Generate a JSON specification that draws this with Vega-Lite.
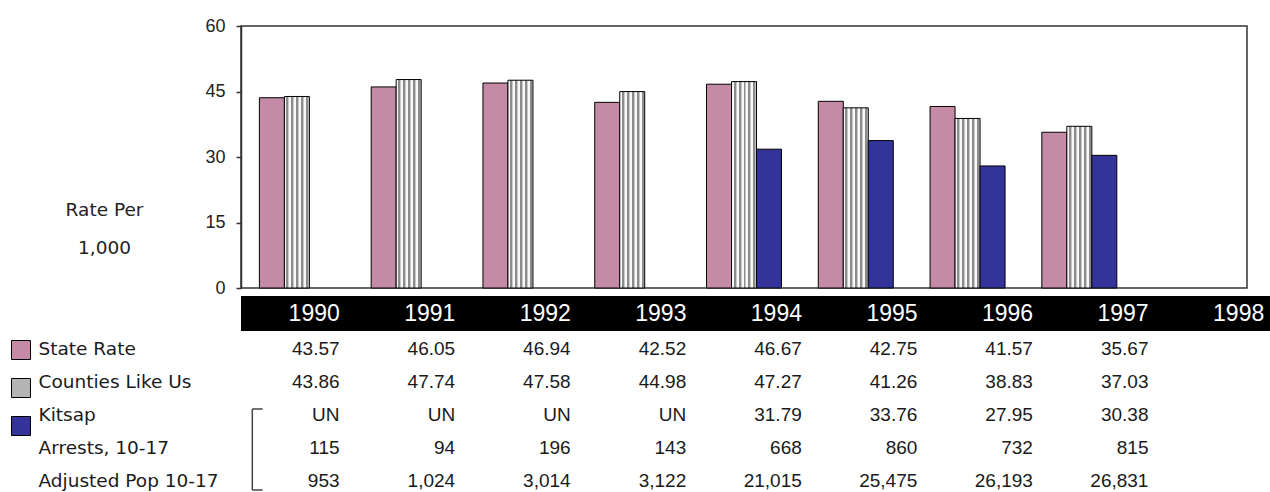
{
  "$schema": "https://vega.github.io/schema/vega-lite/v6.json",
  "padding": {"left": 11, "top": 16, "right": 0, "bottom": 0},
  "bounds": "flush",
  "spacing": 8,
  "config": {"font": "Liberation Sans", "view": {"stroke": null}},
  "vconcat": [
    {
      "width": 1006,
      "height": 262,
      "view": {"stroke": "#333333", "strokeWidth": 1.5},
      "data": {"values": [
        {"year": "1990", "series": "State Rate", "value": 43.57},
        {"year": "1991", "series": "State Rate", "value": 46.05},
        {"year": "1992", "series": "State Rate", "value": 46.94},
        {"year": "1993", "series": "State Rate", "value": 42.52},
        {"year": "1994", "series": "State Rate", "value": 46.67},
        {"year": "1995", "series": "State Rate", "value": 42.75},
        {"year": "1996", "series": "State Rate", "value": 41.57},
        {"year": "1997", "series": "State Rate", "value": 35.67},
        {"year": "1990", "series": "Counties Like Us", "value": 43.86},
        {"year": "1991", "series": "Counties Like Us", "value": 47.74},
        {"year": "1992", "series": "Counties Like Us", "value": 47.58},
        {"year": "1993", "series": "Counties Like Us", "value": 44.98},
        {"year": "1994", "series": "Counties Like Us", "value": 47.27},
        {"year": "1995", "series": "Counties Like Us", "value": 41.26},
        {"year": "1996", "series": "Counties Like Us", "value": 38.83},
        {"year": "1997", "series": "Counties Like Us", "value": 37.03},
        {"year": "1994", "series": "Kitsap", "value": 31.79},
        {"year": "1995", "series": "Kitsap", "value": 33.76},
        {"year": "1996", "series": "Kitsap", "value": 27.95},
        {"year": "1997", "series": "Kitsap", "value": 30.38}
      ]},
      "mark": {"type": "bar", "stroke": "#000000", "strokeWidth": 1},
      "encoding": {
        "x": {"field": "year", "type": "ordinal", "axis": null,
              "scale": {"domain": ["1990","1991","1992","1993","1994","1995","1996","1997","1998"], "paddingInner": 0, "paddingOuter": 0}},
        "xOffset": {"field": "series", "type": "nominal",
              "scale": {"domain": ["State Rate", "Counties Like Us", "Kitsap"], "paddingInner": 0, "paddingOuter": 0.736}},
        "y": {"field": "value", "type": "quantitative",
              "scale": {"domain": [0, 60], "nice": false},
              "axis": {"values": [0, 15, 30, 45, 60], "grid": false, "tickSize": 5, "tickColor": "#333333", "tickWidth": 1.5,
                       "domainColor": "#333333", "domainWidth": 1.5, "labelPadding": 11, "labelFontSize": 18, "labelColor": "#222222",
                       "title": ["Rate Per", "1,000"], "titleAngle": 0, "titleX": -137, "titleY": 189, "titleAlign": "center",
                       "titleBaseline": "alphabetic", "titleLineHeight": 38, "titleFont": "DejaVu Sans", "titleFontSize": 18.5, "titleFontWeight": "normal", "titleColor": "#222222"}},
        "fill": {
          "condition": {"test": "datum.series === 'Counties Like Us'",
            "value": {"gradient": "linear", "x1": 0, "y1": 0, "x2": 1, "y2": 0, "stops": [
              {"offset": 0, "color": "#f8f8f8"}, {"offset": 0.08, "color": "#f8f8f8"}, {"offset": 0.08, "color": "#8c8c8c"}, {"offset": 0.16, "color": "#8c8c8c"}, {"offset": 0.16, "color": "#c8c8c8"}, {"offset": 0.2, "color": "#c8c8c8"},
              {"offset": 0.2, "color": "#f8f8f8"}, {"offset": 0.28, "color": "#f8f8f8"}, {"offset": 0.28, "color": "#8c8c8c"}, {"offset": 0.36, "color": "#8c8c8c"}, {"offset": 0.36, "color": "#c8c8c8"}, {"offset": 0.4, "color": "#c8c8c8"},
              {"offset": 0.4, "color": "#f8f8f8"}, {"offset": 0.48, "color": "#f8f8f8"}, {"offset": 0.48, "color": "#8c8c8c"}, {"offset": 0.56, "color": "#8c8c8c"}, {"offset": 0.56, "color": "#c8c8c8"}, {"offset": 0.6, "color": "#c8c8c8"},
              {"offset": 0.6, "color": "#f8f8f8"}, {"offset": 0.68, "color": "#f8f8f8"}, {"offset": 0.68, "color": "#8c8c8c"}, {"offset": 0.76, "color": "#8c8c8c"}, {"offset": 0.76, "color": "#c8c8c8"}, {"offset": 0.8, "color": "#c8c8c8"},
              {"offset": 0.8, "color": "#f8f8f8"}, {"offset": 0.88, "color": "#f8f8f8"}, {"offset": 0.88, "color": "#8c8c8c"}, {"offset": 0.96, "color": "#8c8c8c"}, {"offset": 0.96, "color": "#c8c8c8"}, {"offset": 1, "color": "#c8c8c8"}
            ]}},
          "field": "series", "type": "nominal",
          "scale": {"domain": ["State Rate", "Counties Like Us", "Kitsap"], "range": ["#c48aa6", "#b4b4b4", "#333399"]},
          "legend": {"orient": "none", "legendX": -230, "legendY": 314, "title": null, "symbolType": "square", "symbolSize": 361,
                     "symbolStrokeColor": "#000000", "symbolStrokeWidth": 1, "rowPadding": 14, "labelExpr": "''", "padding": 0}
        }
      }
    },
    {
      "width": 1029,
      "height": 35,
      "view": {"fill": "#000000", "stroke": null},
      "data": {"values": [
        {"year": "1990"}, {"year": "1991"}, {"year": "1992"}, {"year": "1993"}, {"year": "1994"},
        {"year": "1995"}, {"year": "1996"}, {"year": "1997"}, {"year": "1998"}
      ]},
      "mark": {"type": "text", "align": "right", "baseline": "middle", "fontSize": 23, "color": "#ffffff"},
      "encoding": {
        "x": {"field": "year", "type": "ordinal", "axis": null,
              "scale": {"domain": ["1990","1991","1992","1993","1994","1995","1996","1997","1998"], "range": [41, 1081], "paddingInner": 0, "paddingOuter": 0}},
        "text": {"field": "year"}
      }
    },
    {
      "width": 1029,
      "height": 153,
      "layer": [
        {
          "data": {"values": [
            {"row": "State Rate", "year": "1990", "v": "43.57"},
            {"row": "State Rate", "year": "1991", "v": "46.05"},
            {"row": "State Rate", "year": "1992", "v": "46.94"},
            {"row": "State Rate", "year": "1993", "v": "42.52"},
            {"row": "State Rate", "year": "1994", "v": "46.67"},
            {"row": "State Rate", "year": "1995", "v": "42.75"},
            {"row": "State Rate", "year": "1996", "v": "41.57"},
            {"row": "State Rate", "year": "1997", "v": "35.67"},
            {"row": "Counties Like Us", "year": "1990", "v": "43.86"},
            {"row": "Counties Like Us", "year": "1991", "v": "47.74"},
            {"row": "Counties Like Us", "year": "1992", "v": "47.58"},
            {"row": "Counties Like Us", "year": "1993", "v": "44.98"},
            {"row": "Counties Like Us", "year": "1994", "v": "47.27"},
            {"row": "Counties Like Us", "year": "1995", "v": "41.26"},
            {"row": "Counties Like Us", "year": "1996", "v": "38.83"},
            {"row": "Counties Like Us", "year": "1997", "v": "37.03"},
            {"row": "Kitsap", "year": "1990", "v": "UN"},
            {"row": "Kitsap", "year": "1991", "v": "UN"},
            {"row": "Kitsap", "year": "1992", "v": "UN"},
            {"row": "Kitsap", "year": "1993", "v": "UN"},
            {"row": "Kitsap", "year": "1994", "v": "31.79"},
            {"row": "Kitsap", "year": "1995", "v": "33.76"},
            {"row": "Kitsap", "year": "1996", "v": "27.95"},
            {"row": "Kitsap", "year": "1997", "v": "30.38"},
            {"row": "Arrests, 10-17", "year": "1990", "v": "115"},
            {"row": "Arrests, 10-17", "year": "1991", "v": "94"},
            {"row": "Arrests, 10-17", "year": "1992", "v": "196"},
            {"row": "Arrests, 10-17", "year": "1993", "v": "143"},
            {"row": "Arrests, 10-17", "year": "1994", "v": "668"},
            {"row": "Arrests, 10-17", "year": "1995", "v": "860"},
            {"row": "Arrests, 10-17", "year": "1996", "v": "732"},
            {"row": "Arrests, 10-17", "year": "1997", "v": "815"},
            {"row": "Adjusted Pop 10-17", "year": "1990", "v": "953"},
            {"row": "Adjusted Pop 10-17", "year": "1991", "v": "1,024"},
            {"row": "Adjusted Pop 10-17", "year": "1992", "v": "3,014"},
            {"row": "Adjusted Pop 10-17", "year": "1993", "v": "3,122"},
            {"row": "Adjusted Pop 10-17", "year": "1994", "v": "21,015"},
            {"row": "Adjusted Pop 10-17", "year": "1995", "v": "25,475"},
            {"row": "Adjusted Pop 10-17", "year": "1996", "v": "26,193"},
            {"row": "Adjusted Pop 10-17", "year": "1997", "v": "26,831"}
          ]},
          "mark": {"type": "text", "align": "right", "baseline": "middle", "fontSize": 19, "color": "#1a1a1a"},
          "encoding": {
            "x": {"field": "year", "type": "ordinal", "axis": null, "bandPosition": 1,
                  "scale": {"domain": ["1990","1991","1992","1993","1994","1995","1996","1997","1998"], "range": [-17, 1023], "paddingInner": 0, "paddingOuter": 0}},
            "y": {"field": "row", "type": "nominal",
                  "scale": {"domain": ["State Rate", "Counties Like Us", "Kitsap", "Arrests, 10-17", "Adjusted Pop 10-17"], "range": [-6.5, 158.5], "paddingInner": 0, "paddingOuter": 0},
                  "axis": {"title": null, "orient": "left", "ticks": false, "domain": false, "labelAlign": "left", "labelBaseline": "middle",
                           "labelPadding": 203, "labelFont": "DejaVu Sans", "labelFontSize": 18.5, "labelColor": "#1a1a1a", "labelLimit": 0}},
            "text": {"field": "v"}
          }
        },
        {
          "data": {"values": [{"year": "1990", "from": "Kitsap", "to": "Adjusted Pop 10-17"}]},
          "mark": {"type": "rule", "color": "#444444", "strokeWidth": 1.5, "yOffset": -6, "y2Offset": 9},
          "encoding": {
            "x": {"field": "year", "type": "ordinal", "axis": null, "bandPosition": 0.245,
                  "scale": {"domain": ["1990","1991","1992","1993","1994","1995","1996","1997","1998"], "range": [-17, 1023], "paddingInner": 0, "paddingOuter": 0}},
            "y": {"field": "from", "type": "nominal",
                  "scale": {"domain": ["State Rate", "Counties Like Us", "Kitsap", "Arrests, 10-17", "Adjusted Pop 10-17"], "range": [-6.5, 158.5], "paddingInner": 0, "paddingOuter": 0},
                  "axis": {"title": null, "orient": "left", "ticks": false, "domain": false, "labelAlign": "left", "labelBaseline": "middle",
                           "labelPadding": 203, "labelFont": "DejaVu Sans", "labelFontSize": 18.5, "labelColor": "#1a1a1a", "labelLimit": 0}},
            "y2": {"field": "to"}
          }
        },
        {
          "data": {"values": [{"year": "1990", "from": "Kitsap", "to": "Adjusted Pop 10-17"}]},
          "mark": {"type": "rule", "color": "#444444", "strokeWidth": 1.5, "yOffset": -6},
          "encoding": {
            "x": {"field": "year", "type": "ordinal", "axis": null, "bandPosition": 0.245,
                  "scale": {"domain": ["1990","1991","1992","1993","1994","1995","1996","1997","1998"], "range": [-17, 1023], "paddingInner": 0, "paddingOuter": 0}},
            "x2": {"field": "year", "bandPosition": 0.334},
            "y": {"field": "from", "type": "nominal",
                  "scale": {"domain": ["State Rate", "Counties Like Us", "Kitsap", "Arrests, 10-17", "Adjusted Pop 10-17"], "range": [-6.5, 158.5], "paddingInner": 0, "paddingOuter": 0},
                  "axis": {"title": null, "orient": "left", "ticks": false, "domain": false, "labelAlign": "left", "labelBaseline": "middle",
                           "labelPadding": 203, "labelFont": "DejaVu Sans", "labelFontSize": 18.5, "labelColor": "#1a1a1a", "labelLimit": 0}}
          }
        },
        {
          "data": {"values": [{"year": "1990", "from": "Kitsap", "to": "Adjusted Pop 10-17"}]},
          "mark": {"type": "rule", "color": "#444444", "strokeWidth": 1.5, "yOffset": 9},
          "encoding": {
            "x": {"field": "year", "type": "ordinal", "axis": null, "bandPosition": 0.245,
                  "scale": {"domain": ["1990","1991","1992","1993","1994","1995","1996","1997","1998"], "range": [-17, 1023], "paddingInner": 0, "paddingOuter": 0}},
            "x2": {"field": "year", "bandPosition": 0.334},
            "y": {"field": "to", "type": "nominal",
                  "scale": {"domain": ["State Rate", "Counties Like Us", "Kitsap", "Arrests, 10-17", "Adjusted Pop 10-17"], "range": [-6.5, 158.5], "paddingInner": 0, "paddingOuter": 0},
                  "axis": {"title": null, "orient": "left", "ticks": false, "domain": false, "labelAlign": "left", "labelBaseline": "middle",
                           "labelPadding": 203, "labelFont": "DejaVu Sans", "labelFontSize": 18.5, "labelColor": "#1a1a1a", "labelLimit": 0}}
          }
        }
      ]
    }
  ]
}
